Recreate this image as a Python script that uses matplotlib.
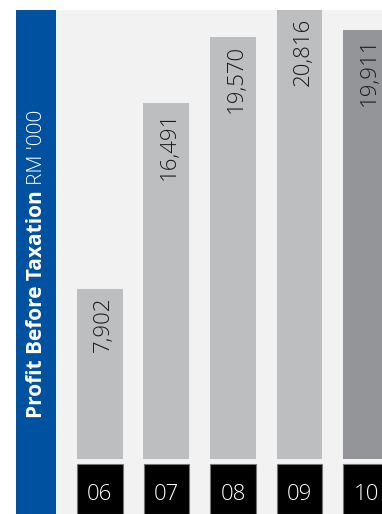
import matplotlib.pyplot as plt
import matplotlib.transforms as mtransforms
from matplotlib.patches import Rectangle

years = ["06", "07", "08", "09", "10"]
profit = [7902, 16491, 19570, 20816, 19911]
bar_colors = ["#bdbec0", "#bdbec0", "#bdbec0", "#bdbec0", "#939598"]

plt.rcParams['font.family'] = ['Open Sans', 'DejaVu Sans']

W, H = 382, 514
fig = plt.figure(figsize=(W / 100, H / 100), dpi=100)
fig.patch.set_facecolor("white")

# blue title strip
fig.patches.append(Rectangle((16 / W, 0), 40 / W, 504 / H, transform=fig.transFigure,
                             facecolor="#0052a0", edgecolor="none", zorder=0))

ax = fig.add_axes([56 / W, 0, 326 / W, 504 / H])
ax.set_facecolor("#f2f2f2")
for s in ax.spines.values():
    s.set_visible(False)
ax.set_xticks([])
ax.set_yticks([])

x = list(range(len(years)))
top = max(profit)
ax.set_xlim(-0.66, 4.24)
ax.set_ylim(-top * 55 / 449, top)

ax.bar(x, profit, width=0.69, color=bar_colors, zorder=2)

for xi, v in zip(x, profit):
    ax.text(xi + 0.05, v - top * 0.018, f"{v:,}", rotation=90, ha="center", va="top",
            fontsize=16, fontweight="light", color="#1a1a1a", zorder=3)

# black year boxes under the bars
trans = mtransforms.blended_transform_factory(ax.transData, ax.transAxes)
box_h = 50 / 504
ax.bar(x, [box_h] * len(x), width=0.68, bottom=0, color="black", edgecolor="#777777",
       linewidth=0.8, transform=trans, zorder=2)
for xi, yr in zip(x, years):
    ax.text(xi, box_h * 0.40, yr, transform=trans, ha="center", va="center",
            fontsize=16, fontweight="light", color="white", zorder=3)

# rotated title: bold part then regular part
t1 = fig.text(37 / W, 1 - 418 / H, "Profit Before Taxation", rotation=90, rotation_mode="anchor",
              ha="left", va="center", fontsize=15, fontweight="bold", color="white")
fig.canvas.draw()
bb = t1.get_window_extent(fig.canvas.get_renderer())
fig.text(37 / W, (bb.y1 + 5) / H, "RM '000", rotation=90, rotation_mode="anchor",
         ha="left", va="center", fontsize=15, fontweight="light", color="white")

fig.savefig("out.png", dpi=100)
